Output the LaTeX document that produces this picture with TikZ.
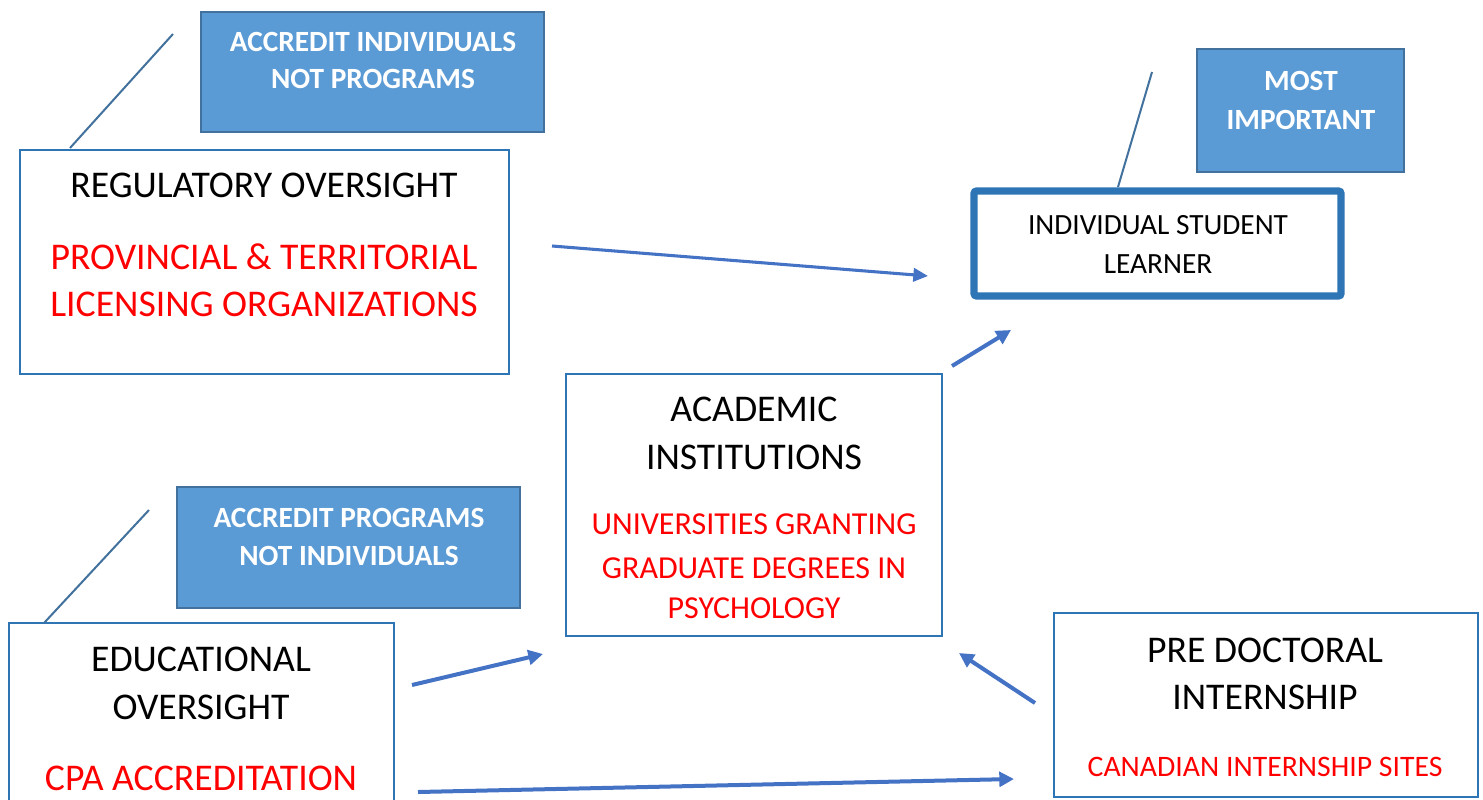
\documentclass[tikz,border=0pt]{standalone}
\usepackage{fontspec}
\setmainfont{Carlito}
\usetikzlibrary{arrows.meta}
\definecolor{boxblue}{HTML}{2E75B6}
\definecolor{callfill}{HTML}{5B9BD5}
\definecolor{calledge}{HTML}{41719C}
\definecolor{arrowblue}{HTML}{4472C4}
\definecolor{txtred}{HTML}{FF0000}
\tikzset{
  mainbox/.style={draw=boxblue, line width=2.2pt, fill=white},
  bigbox/.style={draw=boxblue, line width=5.5pt, fill=white, rounded corners=2pt},
  callbox/.style={draw=calledge, line width=1.5pt, fill=callfill},
  callline/.style={draw=calledge, line width=1.5pt},
  flow/.style={draw=arrowblue, line width=3pt, -{Triangle[length=11pt,width=11pt]}},
  flowthin/.style={draw=arrowblue, line width=2.3pt, -{Triangle[length=11pt,width=10pt]}},
  bigtxt/.style={anchor=base, inner sep=0pt, font=\fontsize{28.3}{32}\selectfont},
  bigred/.style={bigtxt, text=txtred},
  midred/.style={anchor=base, inner sep=0pt, text=txtred, font=\fontsize{24}{28}\selectfont},
  smalltxt/.style={anchor=base, inner sep=0pt, font=\fontsize{22}{26}\selectfont},
  smallred/.style={anchor=base, inner sep=0pt, text=txtred, font=\fontsize{22.3}{26}\selectfont},
  calltxt/.style={anchor=base, inner sep=0pt, text=white, font=\bfseries\fontsize{22}{26}\selectfont},
}
\begin{document}
\begin{tikzpicture}[x=0.75pt,y=-0.75pt]
\useasboundingbox (0,0) rectangle (1483,799);
\clip (0,0) rectangle (1483,799);
% boxes
\draw[mainbox] (20,150) rectangle (509,374);
\node[inner sep=0pt] (regbox) at (264.5,262) {};
\draw[bigbox] (974,191) rectangle (1341,296);
\node[inner sep=0pt] (stubox) at (1157.5,243.5) {};
\draw[mainbox] (566,374) rectangle (942,636);
\node[inner sep=0pt] (acabox) at (754,505) {};
\draw[mainbox] (9,623) rectangle (394,830);
\node[inner sep=0pt] (edubox) at (201.5,726) {};
\draw[mainbox] (1054,613) rectangle (1478,797);
\node[inner sep=0pt] (prebox) at (1266,705) {};
% callouts
\draw[callbox] (201,12) rectangle (544,132);
\node[inner sep=0pt] (callA) at (372.5,72) {};
\draw[callbox] (1197,49) rectangle (1404,172);
\node[inner sep=0pt] (callB) at (1300.5,110) {};
\draw[callbox] (177,487) rectangle (520,608);
\node[inner sep=0pt] (callC) at (348.5,547) {};
\coordinate (cAa) at (173,34); \coordinate (cAb) at (70,148);
\coordinate (cBa) at (1152,72); \coordinate (cBb) at (1118,187);
\coordinate (cCa) at (149,510); \coordinate (cCb) at (44,623);
\draw[callline] (cAa) -- (cAb);
\draw[callline] (cBa) -- (cBb);
\draw[callline] (cCa) -- (cCb);
% texts
\node[calltxt] (tA1) at (373,51) {ACCREDIT INDIVIDUALS};
\node[calltxt] (tA2) at (373,89) {NOT PROGRAMS};
\node[calltxt] (tB1) at (1301,90) {MOST};
\node[calltxt] (tB2) at (1301,129) {IMPORTANT};
\node[calltxt] (tC1) at (349,527) {ACCREDIT PROGRAMS};
\node[calltxt] (tC2) at (349,565) {NOT INDIVIDUALS};
\node[bigtxt] (tR1) at (264,197) {REGULATORY OVERSIGHT};
\node[bigred] (tR2) at (264,269) {PROVINCIAL \& TERRITORIAL};
\node[bigred] (tR3) at (264,316) {LICENSING ORGANIZATIONS};
\node[smalltxt] (tS1) at (1158,234) {INDIVIDUAL STUDENT};
\node[smalltxt] (tS2) at (1158,273) {LEARNER};
\node[bigtxt] (tI1) at (754,421) {ACADEMIC};
\node[bigtxt] (tI2) at (754,469) {INSTITUTIONS};
\node[midred] (tI3) at (754,534) {UNIVERSITIES GRANTING};
\node[midred] (tI4) at (754,578) {GRADUATE DEGREES IN};
\node[midred] (tI5) at (754,618) {PSYCHOLOGY};
\node[bigtxt] (tE1) at (201,671) {EDUCATIONAL};
\node[bigtxt] (tE2) at (201,719) {OVERSIGHT};
\node[bigred] (tE3) at (201,790) {CPA ACCREDITATION};
\node[bigtxt] (tP1) at (1265,662) {PRE DOCTORAL};
\node[bigtxt] (tP2) at (1265,709) {INTERNSHIP};
\node[smallred] (tP3) at (1265,776) {CANADIAN INTERNSHIP SITES};
% arrows
\coordinate (a1s) at (552,246); \coordinate (a1e) at (928,276);
\coordinate (a2s) at (952,366); \coordinate (a2e) at (1011,330);
\coordinate (a3s) at (412,685); \coordinate (a3e) at (543,654);
\coordinate (a4s) at (1035,703); \coordinate (a4e) at (959,653);
\coordinate (a5s) at (418,792); \coordinate (a5e) at (1014,779);
\draw[flowthin] (a1s) -- (a1e);
\draw[flow] (a2s) -- (a2e);
\draw[flow] (a3s) -- (a3e);
\draw[flow] (a4s) -- (a4e);
\draw[flow] (a5s) -- (a5e);
\end{tikzpicture}
\end{document}
